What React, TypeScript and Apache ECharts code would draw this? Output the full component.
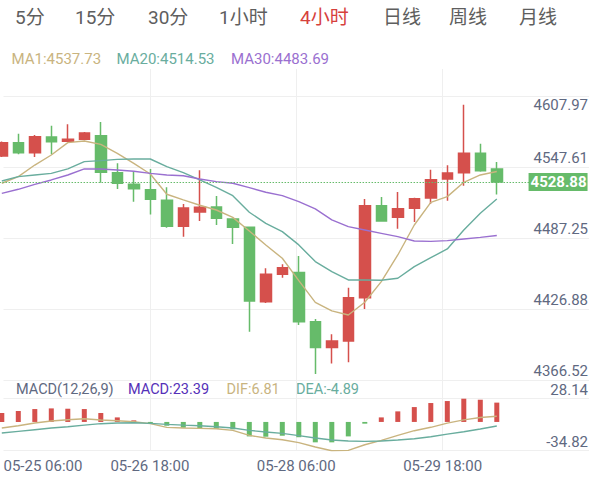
import React, { useEffect, useRef } from "react";
import * as echarts from "echarts";

// ---------- data ----------
const tabs = ["5分", "15分", "30分", "1小时", "4小时", "日线", "周线", "月线"];
const activeTab = "4小时";

const times = [
  "05-25 06:00", "05-25 10:00", "05-25 14:00", "05-25 18:00", "05-25 22:00", "05-26 02:00",
  "05-26 06:00", "05-26 10:00", "05-26 14:00", "05-26 18:00", "05-26 22:00", "05-27 02:00",
  "05-27 06:00", "05-27 10:00", "05-27 14:00", "05-27 18:00", "05-27 22:00", "05-28 02:00",
  "05-28 06:00", "05-28 10:00", "05-28 14:00", "05-28 18:00", "05-28 22:00", "05-29 02:00",
  "05-29 06:00", "05-29 10:00", "05-29 14:00", "05-29 18:00", "05-29 22:00", "05-30 02:00",
  "05-30 06:00",
];
const opens = [
  4550.9, 4562.1, 4553.6, 4566.9, 4563.2, 4564.9, 4568.0, 4536.7, 4526.9, 4522.4, 4513.4,
  4491.4, 4503.5, 4507.8, 4497.6, 4490.6, 4427.7, 4450.9, 4452.3, 4410.8, 4388.9, 4394.5,
  4431.1, 4508.9, 4499.0, 4506.7, 4515.4, 4531.4, 4536.7, 4553.1, 4539.9,
];
const closes = [
  4562.1, 4553.6, 4567.2, 4562.9, 4564.9, 4570.3, 4537.1, 4527.8, 4523.2, 4514.3, 4491.4,
  4506.9, 4507.5, 4498.2, 4490.6, 4428.3, 4450.9, 4456.5, 4410.8, 4388.9, 4394.5, 4431.1,
  4508.9, 4495.9, 4506.3, 4514.8, 4530.8, 4536.5, 4553.1, 4538.4, 4528.88,
];
const lows = [
  4550.0, 4552.3, 4550.0, 4552.3, 4563.2, 4564.1, 4528.3, 4523.0, 4512.2, 4501.3, 4490.3,
  4482.7, 4495.9, 4492.5, 4476.5, 4402.4, 4426.6, 4448.0, 4408.0, 4366.52, 4375.4, 4376.5,
  4421.6, 4495.3, 4489.4, 4495.1, 4510.3, 4513.1, 4525.8, 4537.6, 4518.2,
];
const highs = [
  4563.0, 4569.7, 4568.6, 4576.5, 4577.6, 4571.1, 4579.6, 4544.7, 4538.2, 4539.9, 4524.4,
  4510.3, 4538.8, 4517.0, 4497.6, 4490.6, 4455.9, 4459.3, 4466.3, 4413.1, 4400.2, 4439.6,
  4514.5, 4516.2, 4520.4, 4515.6, 4539.3, 4543.0, 4594.2, 4561.2, 4545.8,
];
const ma1 = [
  4527.8, 4533.4, 4543.2, 4551.7, 4562.1, 4563.5, 4560.7, 4553.1, 4544.6, 4535.6, 4518.5,
  4513.7, 4509.2, 4505.2, 4499.0, 4487.5, 4475.6, 4464.4, 4445.5, 4427.2, 4419.9, 4416.5,
  4427.2, 4444.7, 4467.2, 4492.5, 4511.7, 4516.5, 4528.6, 4534.8, 4537.73,
];
const ma20 = [
  4529.7, 4533.4, 4534.8, 4536.2, 4539.9, 4546.1, 4546.9, 4548.0, 4548.3, 4548.3, 4541.8,
  4536.8, 4530.6, 4524.4, 4517.3, 4503.3, 4493.9, 4486.9, 4475.7, 4461.6, 4453.1, 4446.1,
  4446.1, 4445.8, 4447.5, 4457.3, 4464.9, 4472.3, 4488.3, 4502.4, 4514.53,
];
const ma30 = [
  4519.3, 4522.7, 4526.9, 4530.6, 4534.8, 4539.9, 4539.9, 4539.0, 4537.9, 4536.2, 4534.8,
  4534.2, 4531.4, 4529.2, 4527.8, 4524.1, 4520.2, 4517.3, 4512.3, 4506.1, 4496.8, 4491.1,
  4488.3, 4485.5, 4482.7, 4479.0, 4478.7, 4479.3, 4480.7, 4482.1, 4483.69,
];
const macdBars = [
  10.7, 13.2, 15.6, 16.4, 16.0, 15.6, 10.8, 5.5, 1.9, -2.5, -4.6, -7.0, -7.4, -8.2, -9.0,
  -17.5, -17.9, -16.7, -18.5, -24.7, -24.7, -17.5, -2.1, 5.5, 12.8, 18.0, 22.9, 25.3, 28.14,
  26.9, 23.39,
];
const dif = [
  -7.4, -4.6, -1.3, 1.1, 2.7, 3.9, 2.3, 1.5, 0.3, -2.1, -6.6, -7.4, -7.8, -8.2, -10.2, -16.3,
  -19.5, -21.5, -25.0, -30.4, -34.82, -34.4, -27.6, -22.3, -16.3, -10.6, -6.5, -1.5, 2.5, 5.3,
  6.81,
];
const dea = [
  -13.4, -11.4, -9.4, -7.4, -5.8, -3.8, -2.1, -1.3, -0.9, -1.7, -2.9, -3.8, -4.6, -5.8, -7.4,
  -10.2, -12.2, -13.8, -16.5, -19.5, -21.9, -23.1, -23.5, -23.1, -21.9, -20.3, -18.0, -14.8,
  -11.8, -8.5, -4.89,
];
const priceTickLabels = ["4366.52", "4426.88", "4487.25", "4547.61", "4607.97"];
const priceMin = 4366.52;
const priceMax = 4607.97;
const macdTickLabels = ["-34.82", "28.14"];
const macdMin = -34.82;
const macdMax = 28.14;
const dateTickLabels = ["05-25 06:00", "05-26 18:00", "05-28 06:00", "05-29 18:00"];
const lastPrice = 4528.88;

// ---------- styles ----------
const FONT = 'Roboto, "Noto Sans CJK SC", sans-serif';
const UP = "#d5504c";
const DOWN = "#66bb6a";
const C_MA1 = "#c9b47f";
const C_MA20 = "#69ad9e";
const C_MA30 = "#9a70d0";
const C_MACD = "#5530b8";
const AXIS_TXT = "#5f6981";
const GRID_LINE = "#efefef";
const TAB_GRAY = "#5e5e5e";
const TAB_RED = "#d6403c";

const tabX = [15, 75, 148, 219, 300, 383, 449, 519];
const BAND = 16.5;
const SLOTS = 36;
const DATA_LEFT = 1.8 - BAND / 2;

function txt(x: number, y: number, text: string, fill: string, size: number) {
  return {
    type: "text",
    x,
    y,
    silent: true,
    style: { text, fill, fontSize: size, fontFamily: FONT, align: "left", verticalAlign: "middle" },
  };
}

function buildOption() {
  const cats = [...times];
  while (cats.length < SLOTS) cats.push("");
  const candleData = times.map((_, i) => [opens[i], closes[i], lows[i], highs[i]]);
  const last = (a: number[]) => a[a.length - 1].toFixed(2);

  const graphics: any[] = [];
  tabs.forEach((t, i) => graphics.push(txt(tabX[i], 17, t, t === activeTab ? TAB_RED : TAB_GRAY, 19)));
  graphics.push(txt(11.5, 59, `MA1:${last(ma1)}`, C_MA1, 15));
  graphics.push(txt(116.5, 59, `MA20:${last(ma20)}`, C_MA20, 15));
  graphics.push(txt(231, 59, `MA30:${last(ma30)}`, C_MA30, 15));
  graphics.push(txt(16, 389, "MACD(12,26,9)", AXIS_TXT, 14.5));
  graphics.push(txt(128, 389, `MACD:${last(macdBars)}`, C_MACD, 14.5));
  graphics.push(txt(226.5, 389, `DIF:${last(dif)}`, C_MA1, 14.5));
  graphics.push(txt(296, 389, `DEA:${last(dea)}`, C_MA20, 14.5));

  const hidden = { show: false };
  const labelRich = {
    up: { fontSize: 15, fontFamily: FONT, color: AXIS_TXT, padding: [0, 0, 18, 0] },
    dn: { fontSize: 15, fontFamily: FONT, color: AXIS_TXT, padding: [18, 0, 0, 0] },
  };

  return {
    animation: false,
    backgroundColor: "#ffffff",
    graphic: graphics,
    grid: [
      // 0: vertical background lines + date labels
      { left: 3.5, right: 3, top: 69, height: 382, outerBoundsMode: "none" },
      // 1: main horizontal background lines + price labels
      { left: 3.5, right: 3, top: 96, height: 284, outerBoundsMode: "none" },
      // 2: candles
      { left: DATA_LEFT, width: BAND * SLOTS, top: 88.4, height: 285.7, outerBoundsMode: "none" },
      // 3: MACD horizontal background lines + labels
      { left: 3.5, right: 3, top: 398.7, height: 52, outerBoundsMode: "none" },
      // 4: MACD data
      { left: DATA_LEFT, width: BAND * SLOTS, top: 398.7, height: 52, outerBoundsMode: "none" },
    ],
    xAxis: [
      {
        gridIndex: 0,
        type: "value",
        min: 0,
        max: 4,
        interval: 1,
        axisLine: hidden,
        axisTick: hidden,
        splitLine: { show: true, showMinLine: false, showMaxLine: false, lineStyle: { color: GRID_LINE, width: 1 } },
        axisLabel: {
          show: true,
          margin: 7,
          color: AXIS_TXT,
          fontSize: 15,
          fontFamily: FONT,
          alignMinLabel: "left",
          formatter: (_v: number, i: number) => dateTickLabels[i] ?? "",
        },
      },
      { gridIndex: 1, type: "value", show: false, min: 0, max: 1 },
      { gridIndex: 2, type: "category", data: cats, show: false, boundaryGap: true },
      { gridIndex: 3, type: "value", show: false, min: 0, max: 1 },
      { gridIndex: 4, type: "category", data: cats, show: false, boundaryGap: true },
    ],
    yAxis: [
      { gridIndex: 0, type: "value", show: false, splitLine: hidden },
      {
        gridIndex: 1,
        type: "value",
        position: "right",
        min: priceMin,
        max: priceMax,
        interval: (priceMax - priceMin) / 4,
        axisLine: hidden,
        axisTick: hidden,
        splitLine: { show: true, lineStyle: { color: GRID_LINE, width: 1 } },
        axisLabel: {
          inside: true,
          margin: 1,
          formatter: (_v: number, i: number) =>
            i === priceTickLabels.length - 1 ? `{dn|${priceTickLabels[i]}}` : `{up|${priceTickLabels[i] ?? ""}}`,
          rich: labelRich,
        },
      },
      { gridIndex: 2, type: "value", show: false, min: priceMin, max: priceMax, splitLine: hidden },
      {
        gridIndex: 3,
        type: "value",
        position: "right",
        min: macdMin,
        max: macdMax,
        interval: macdMax - macdMin,
        axisLine: hidden,
        axisTick: hidden,
        splitLine: { show: true, lineStyle: { color: GRID_LINE, width: 1 } },
        axisLabel: {
          inside: true,
          margin: 1,
          formatter: (_v: number, i: number) => `{up|${macdTickLabels[i] ?? ""}}`,
          rich: labelRich,
        },
      },
      { gridIndex: 4, type: "value", show: false, min: macdMin, max: macdMax, splitLine: hidden },
    ],
    series: [
      {
        type: "candlestick",
        xAxisIndex: 2,
        yAxisIndex: 2,
        data: candleData,
        barWidth: 11,
        itemStyle: { color: UP, color0: DOWN, borderColor: UP, borderColor0: DOWN, borderWidth: 1.5 },
        markLine: {
          silent: true,
          symbol: ["none", "none"],
          lineStyle: { color: DOWN, type: [1.5, 1.5], width: 1.2 },
          label: {
            show: true,
            position: "insideEnd",
            distance: 0,
            formatter: () => lastPrice.toFixed(2),
            color: "#ffffff",
            fontWeight: "bold",
            fontSize: 15,
            fontFamily: FONT,
            backgroundColor: DOWN,
            padding: [2, 1, 1, 2],
          },
          data: [{ yAxis: lastPrice }],
        },
      },
      {
        type: "line", xAxisIndex: 2, yAxisIndex: 2, data: ma1, symbol: "none",
        lineStyle: { color: C_MA1, width: 1.4 }, z: 3,
      },
      {
        type: "line", xAxisIndex: 2, yAxisIndex: 2, data: ma20, symbol: "none",
        lineStyle: { color: C_MA20, width: 1.4 }, z: 3,
      },
      {
        type: "line", xAxisIndex: 2, yAxisIndex: 2, data: ma30, symbol: "none",
        lineStyle: { color: C_MA30, width: 1.4 }, z: 3,
      },
      {
        type: "bar",
        xAxisIndex: 4,
        yAxisIndex: 4,
        barWidth: 5,
        data: macdBars.map((v) => ({ value: v, itemStyle: { color: v >= 0 ? UP : DOWN } })),
      },
      {
        type: "line", xAxisIndex: 4, yAxisIndex: 4, data: dif, symbol: "none",
        lineStyle: { color: C_MA1, width: 1.4 }, z: 3,
      },
      {
        type: "line", xAxisIndex: 4, yAxisIndex: 4, data: dea, symbol: "none",
        lineStyle: { color: C_MA20, width: 1.4 }, z: 3,
      },
    ],
  };
}

export default function App() {
  const ref = useRef<HTMLDivElement>(null);
  useEffect(() => {
    if (!ref.current) return;
    const chart = echarts.init(ref.current, null, { renderer: "svg" });
    chart.setOption(buildOption() as any);
    return () => chart.dispose();
  }, []);
  return (
    <div
      ref={ref}
      style={{ position: "fixed", left: 0, top: 0, width: 592, height: 481, background: "#ffffff" }}
    />
  );
}
